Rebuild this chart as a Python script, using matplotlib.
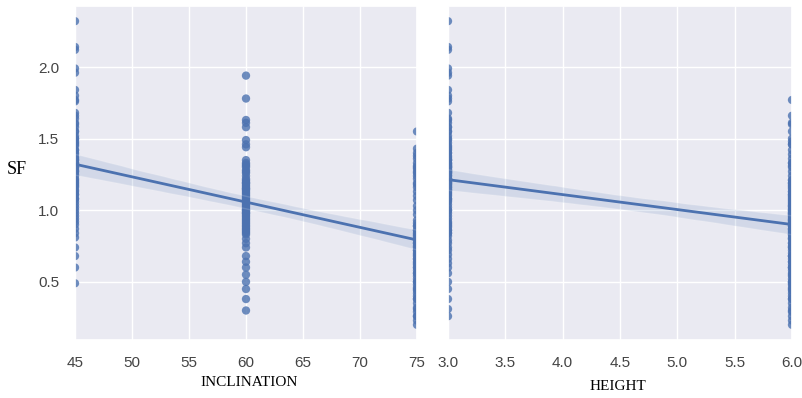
import numpy as np
import matplotlib
matplotlib.use("Agg")
import matplotlib.pyplot as plt
import seaborn as sns

# ---- data (SF values, grouped by inclination / height) ----
inclination_levels = [45, 60, 75]
height_levels = [3.0, 6.0]

sf_i45_h3 = [2.32, 2.14, 2.12, 1.99, 1.96, 1.84, 1.80, 1.76, 1.68, 1.64, 1.61, 1.58,
             1.55, 1.52, 1.50, 1.47, 1.45, 1.42, 1.40, 1.37, 1.35, 1.33, 1.30, 1.28,
             1.25, 1.22, 1.20, 1.17, 1.14, 1.11, 1.08, 1.35, 1.31, 1.32, 1.27, 1.18]
sf_i45_h6 = [1.77, 1.66, 1.60, 1.55, 1.50, 1.48, 1.46, 1.42, 1.39, 1.36, 1.33, 1.30,
             1.27, 1.24, 1.21, 1.19, 1.16, 1.13, 1.11, 1.08, 1.06, 1.04, 1.02, 1.00,
             0.98, 0.96, 0.94, 0.92, 0.90, 0.87, 0.84, 0.81, 0.74, 0.68, 0.60, 0.49]
sf_i60_h3 = [1.94, 1.78, 1.63, 1.58, 1.49, 1.44, 1.35, 1.32, 1.28, 1.26, 1.24, 1.22,
             1.20, 1.18, 1.16, 1.14, 1.12, 1.10, 1.08, 1.06, 1.04, 1.02, 1.00, 0.98,
             0.96, 0.94, 0.92, 0.90, 0.88, 0.86, 0.84, 1.31, 1.19, 1.15, 1.30, 1.27]
sf_i60_h6 = [1.61, 1.46, 1.33, 1.00, 0.98, 1.21, 1.19, 1.17, 1.15, 1.13, 1.11, 1.09,
             1.07, 1.05, 1.03, 1.01, 0.99, 0.97, 0.95, 0.93, 0.91, 0.89, 0.87, 0.85,
             0.83, 0.80, 0.77, 0.74, 0.68, 0.64, 0.60, 0.55, 0.50, 0.45, 0.38, 0.30]
sf_i75_h3 = [1.55, 1.43, 1.40, 1.38, 1.36, 1.07, 1.33, 1.30, 1.29, 1.00, 1.27, 1.26,
             1.24, 1.22, 1.19, 1.16, 1.13, 0.91, 0.89, 0.86, 0.84, 0.82, 0.79, 0.77,
             0.74, 0.72, 0.69, 0.66, 0.63, 0.60, 0.56, 0.50, 0.45, 0.38, 0.31, 0.26]
sf_i75_h6 = [1.31, 1.18, 1.10, 1.03, 0.97, 0.93, 0.89, 0.86, 0.83, 0.80, 0.77, 0.75,
             0.72, 0.70, 0.68, 0.66, 0.64, 0.62, 0.60, 0.58, 0.56, 0.54, 0.52, 0.50,
             0.48, 0.46, 0.44, 0.42, 0.40, 0.38, 0.35, 0.32, 0.29, 0.26, 0.23, 0.20]

groups = [
    (45, 3.0, sf_i45_h3), (45, 6.0, sf_i45_h6),
    (60, 3.0, sf_i60_h3), (60, 6.0, sf_i60_h6),
    (75, 3.0, sf_i75_h3), (75, 6.0, sf_i75_h6),
]

inclination_ticks = [45, 50, 55, 60, 65, 70, 75]
height_ticks = [3.0, 3.5, 4.0, 4.5, 5.0, 5.5, 6.0]
sf_ticks = [0.5, 1.0, 1.5, 2.0]

sf = np.concatenate([np.asarray(v, float) for _, _, v in groups])
inclination = np.concatenate([np.full(len(v), i, float) for i, _, v in groups])
height = np.concatenate([np.full(len(v), h, float) for _, h, v in groups])

# ---- style ----
sns.set_theme(style="darkgrid")
plt.rcParams["font.family"] = ["Liberation Sans", "DejaVu Sans"]

W, H = 803, 398
fig = plt.figure(figsize=(W / 100, H / 100), dpi=100)
ax1 = fig.add_axes([75 / W, 1 - 340 / H, 342 / W, 334 / H])
ax2 = fig.add_axes([448 / W, 1 - 340 / H, 344 / W, 334 / H], sharey=ax1)

blue = "#4C72B0"
skw = dict(s=36, alpha=0.8, edgecolors="none")
lkw = dict(lw=2.0)

sns.regplot(x=inclination, y=sf, ax=ax1, color=blue, scatter_kws=skw,
            line_kws=lkw, seed=0)
sns.regplot(x=height, y=sf, ax=ax2, color=blue, scatter_kws=skw,
            line_kws=lkw, seed=0)

ax1.set_xlim(inclination_levels[0], inclination_levels[-1])
ax2.set_xlim(height_levels[0], height_levels[-1])
ax1.set_xticks(inclination_ticks)
ax1.set_xticklabels([str(t) for t in inclination_ticks])
ax2.set_xticks(height_ticks)
ax2.set_xticklabels([f"{t:.1f}" for t in height_ticks])
ax1.set_yticks(sf_ticks)
ax1.set_yticklabels([f"{t:.1f}" for t in sf_ticks])

for ax in (ax1, ax2):
    ax.set_xlabel("")
    ax.set_ylabel("")
    ax.tick_params(labelsize=11, length=0, pad=11.5, labelcolor="#444444")
plt.setp(ax2.get_yticklabels(), visible=False)

serif = ["Liberation Serif", "DejaVu Serif"]
fig.text(249 / W, 1 - 383 / H, "INCLINATION", family=serif, size=11,
         ha="center", va="center", color="black")
fig.text(618 / W, 1 - 386 / H, "HEIGHT", family=serif, size=11,
         ha="center", va="center", color="black")
fig.text(17 / W, 1 - 170 / H, "SF", family=serif, size=13,
         ha="center", va="center", color="black")

fig.savefig("out.png", dpi=100)
